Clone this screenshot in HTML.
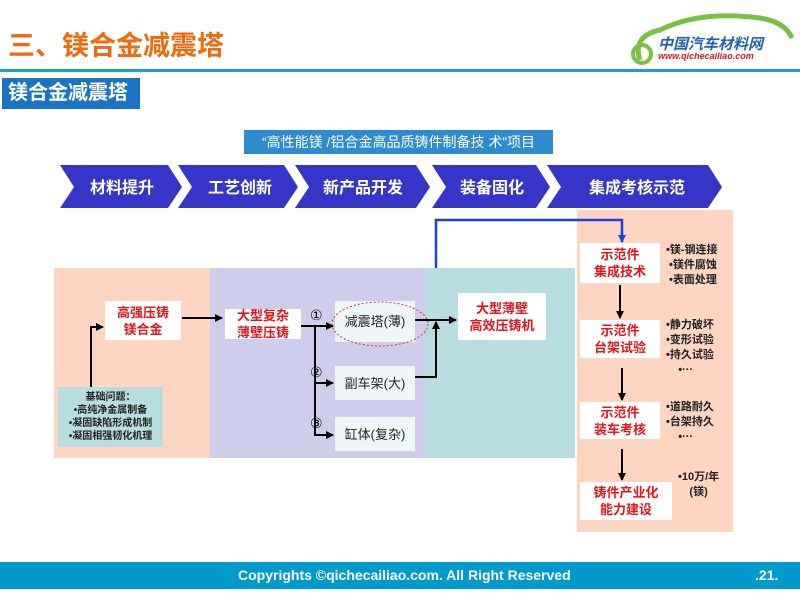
<!DOCTYPE html>
<html><head><meta charset="utf-8"><style>
*{margin:0;padding:0;box-sizing:border-box}
body{width:800px;height:599px;position:relative;background:#fff;font-family:"Liberation Sans","Noto Sans CJK SC",sans-serif;overflow:hidden}
.a{position:absolute}
.box{position:absolute;background:#fff;color:#e8141c;font-weight:bold;font-size:13px;line-height:17px;text-align:center;display:flex;align-items:center;justify-content:center}
.g{background:#eef6f7;color:#222;font-weight:normal}
.note{position:absolute;font-size:11px;line-height:15px;color:#222;font-weight:bold}
</style></head><body>
<div class="a" style="left:8px;top:24px;font-size:27px;font-weight:bold;color:#f26a10">三、镁合金减震塔</div>
<svg class="a" style="left:620px;top:8px" width="180" height="60">
<path d="M20 52 Q12 28 40 22 Q80 2 140 10 Q165 14 172 30" fill="none" stroke="#7ac143" stroke-width="5"/>
<circle cx="22" cy="46" r="9" fill="none" stroke="#7ac143" stroke-width="4"/>
</svg>
<div class="a" style="left:658px;top:33px;font-size:15px;font-weight:bold;color:#1f62b0;font-style:italic">中国汽车材料网</div>
<div class="a" style="left:658px;top:51px;font-size:9px;font-weight:bold;color:#e8141c;font-style:italic">www.qichecailiao.com</div>
<div class="a" style="left:0;top:69px;width:800px;height:3px;background:#1aa0d8"></div>
<div class="a" style="left:2px;top:78px;width:138px;height:31px;background:#1b73c4;color:#fff;font-size:20px;font-weight:bold;line-height:31px;padding-left:6px">镁合金减震塔</div>
<div class="a" style="left:244px;top:130px;width:309px;height:24px;background:#2e8bd0;color:#fff;font-size:14px;line-height:24px;text-align:center">“高性能镁 /铝合金高品质铸件制备技 术”项目</div>
<svg class="a" style="left:0;top:0" width="800" height="599">
<g fill="#3535c8">
<polygon points="60,165 168,165 182,187 168,208 60,208 74,187"/>
<polygon points="178,165 284,165 298,187 284,208 178,208 192,187"/>
<polygon points="295,165 416,165 430,187 416,208 295,208 309,187"/>
<polygon points="432,165 536,165 550,187 536,208 432,208 446,187"/>
<polygon points="547,165 708,165 722,187 708,208 547,208 561,187"/>
</g>
<g fill="#fff" font-size="16" font-weight="bold" text-anchor="middle" font-family="Liberation Sans,Noto Sans CJK SC,sans-serif">
<text x="122" y="193">材料提升</text><text x="240" y="193">工艺创新</text><text x="363" y="193">新产品开发</text><text x="492" y="193">装备固化</text><text x="637" y="193">集成考核示范</text>
</g>
<rect x="54" y="268" width="156" height="190" fill="#fdd5c1"/>
<rect x="210" y="268" width="215" height="190" fill="#cfcdec"/>
<rect x="425" y="268" width="150" height="190" fill="#b8dde0"/>
<rect x="577" y="210" width="156" height="322" fill="#fdd5c1"/>
<rect x="0" y="562" width="800" height="27" fill="#009bcc"/>
</svg>
<div class="box" style="left:105px;top:301px;width:76px;height:39px">高强压铸<br>镁合金</div>
<div class="box" style="left:58px;top:387px;width:105px;height:60px;background:#b8dde0;color:#222;font-size:10px;line-height:13px;font-weight:bold">基础问题：<br>•高纯净金属制备<br>•凝固缺陷形成机制<br>•凝固相强韧化机理</div>
<div class="box" style="left:225px;top:309px;width:76px;height:30px;background:#fff">大型复杂<br>薄壁压铸</div>
<div class="box g" style="left:335px;top:301px;width:80px;height:41px">减震塔(薄)</div>
<div class="box g" style="left:335px;top:366px;width:80px;height:34px">副车架(大)</div>
<div class="box g" style="left:335px;top:417px;width:80px;height:34px">缸体(复杂)</div>
<div class="box" style="left:458px;top:293px;width:88px;height:47px">大型薄壁<br>高效压铸机</div>
<div class="box" style="left:580px;top:243px;width:80px;height:40px">示范件<br>集成技术</div>
<div class="box" style="left:580px;top:320px;width:80px;height:38px">示范件<br>台架试验</div>
<div class="box" style="left:580px;top:402px;width:80px;height:37px">示范件<br>装车考核</div>
<div class="box" style="left:580px;top:482px;width:92px;height:38px">铸件产业化<br>能力建设</div>
<div class="note" style="left:666px;top:243px">•镁-钢连接<br>&nbsp;•镁件腐蚀<br>&nbsp;•表面处理</div>
<div class="note" style="left:666px;top:318px">•静力破坏<br>•变形试验<br>•持久试验<br>&nbsp;&nbsp;&nbsp;&nbsp;•···</div>
<div class="note" style="left:666px;top:400px">•道路耐久<br>•台架持久<br>&nbsp;&nbsp;&nbsp;&nbsp;•···</div>
<div class="note" style="left:678px;top:470px;text-align:center">•10万/年<br>(镁)</div>
<svg class="a" style="left:0;top:0" width="800" height="599">
<defs><marker id="m" markerWidth="8" markerHeight="8" refX="7" refY="4" orient="auto" markerUnits="userSpaceOnUse"><path d="M0,0 L8,4 L0,8z" fill="#000"/></marker>
<marker id="mb" markerWidth="8" markerHeight="8" refX="7" refY="4" orient="auto" markerUnits="userSpaceOnUse"><path d="M0,0 L8,4 L0,8z" fill="#1a3df0"/></marker></defs>
<g stroke="#000" stroke-width="2" fill="none">
<path d="M91 387 V327 H103" marker-end="url(#m)"/>
<path d="M182 318 H222" marker-end="url(#m)"/>
<path d="M301 326 H333" marker-end="url(#m)"/>
<path d="M315 326 V435 H333" marker-end="url(#m)"/>
<path d="M315 383 H333" marker-end="url(#m)"/>
<path d="M415 320 H456" marker-end="url(#m)"/>
<path d="M415 377 H436 V322" marker-end="url(#m)"/>
<path d="M620 285 V318" marker-end="url(#m)"/>
<path d="M622 368 V400" marker-end="url(#m)"/>
<path d="M622 449 V480" marker-end="url(#m)"/>
</g>
<path d="M436 268 V220 H622 V242" stroke="#1a3df0" stroke-width="2.5" fill="none" marker-end="url(#mb)"/>
<ellipse cx="380" cy="324" rx="48" ry="22" fill="none" stroke="#e23030" stroke-dasharray="2,2"/>
<g font-size="14" fill="#000" font-family="DejaVu Sans,sans-serif"><text x="310" y="320">①</text><text x="310" y="377">②</text><text x="310" y="428">③</text></g>
</svg>
<div class="a" style="left:238px;top:567px;font-size:14px;font-weight:bold;color:#fff">Copyrights ©qichecailiao.com. All Right Reserved</div>
<div class="a" style="left:755px;top:567px;font-size:14px;font-weight:bold;color:#fff">.21.</div>
</body></html>
